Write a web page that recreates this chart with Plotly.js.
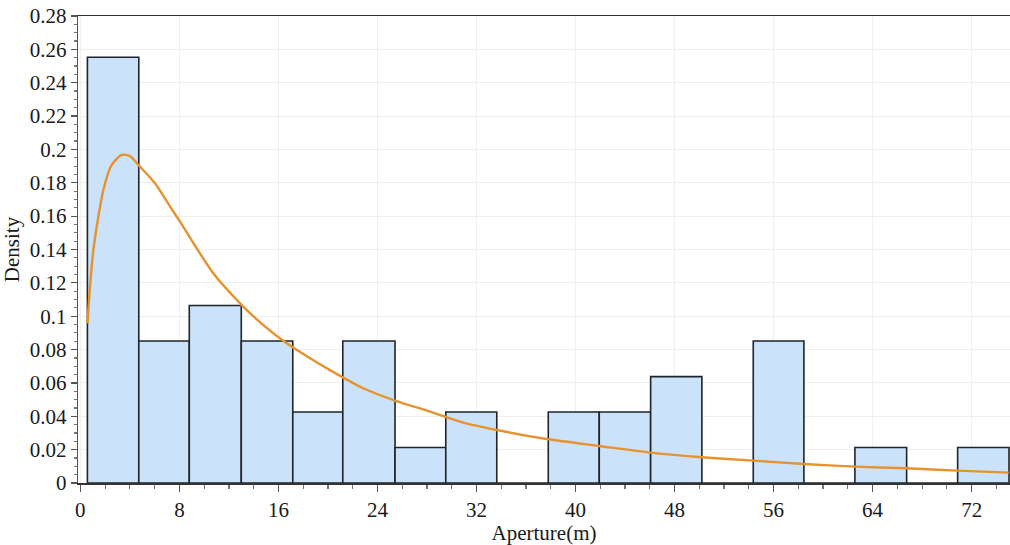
<!DOCTYPE html>
<html>
<head>
<meta charset="utf-8">
<script src="https://cdn.plot.ly/plotly-3.0.1.min.js"></script>
<style>html,body{margin:0;padding:0;background:#fff;}#chart{width:1010px;height:545px;}</style>
</head>
<body>
<div id="chart"></div>
<script>
// Histogram bin edges (m)
const binEdges = [0.57, 4.72, 8.80, 13.00, 17.16, 21.20, 25.42, 29.52, 33.64, 37.80,
                  41.92, 46.07, 50.21, 54.36, 58.45, 62.57, 66.75, 70.87, 75.02];
// Bar heights (Density axis)
const binHeights = [0.2553, 0.0851, 0.1064, 0.0851, 0.0426, 0.0851, 0.0213, 0.0426, 0,
                    0.0426, 0.0426, 0.0638, 0, 0.0851, 0, 0.0213, 0, 0.0213];
// Fitted density curve
const curveX = [0.57, 1.05, 1.86, 2.53, 3.34, 4.01, 4.69, 6.03, 7.25, 8.05, 10.74,
                13.04, 14.78, 16.67, 18.2, 20.17, 22.86, 25.42, 28.25, 30.94, 33.63,
                37.8, 41.9, 46.07, 50.2, 54.36, 58.46, 62.58, 66.75, 70.87, 75.0];
const curveY = [0.0957, 0.1397, 0.1757, 0.1907, 0.1967, 0.196, 0.1907, 0.1797, 0.1657, 0.1567,
                0.1257, 0.1067, 0.0947, 0.0838, 0.0765, 0.0677, 0.0568, 0.0494,
                0.0428, 0.0362, 0.0318, 0.0262, 0.0222, 0.0182, 0.0154, 0.0134, 0.0114, 0.0098,
                0.0088, 0.0074, 0.0062];
const xTickVals = [0, 8, 16, 24, 32, 40, 48, 56, 64, 72];
const xTitle = 'Aperture(m)';
const yTitle = 'Density';

const centers = binHeights.map((_, i) => (binEdges[i] + binEdges[i + 1]) / 2);
const widths = binHeights.map((_, i) => binEdges[i + 1] - binEdges[i]);

const font = 'Liberation Serif, Times New Roman, serif';

const traces = [
  {
    type: 'bar',
    x: centers,
    y: binHeights,
    width: widths,
    marker: {color: '#cbe3fa', line: {color: '#1e2428', width: 1.6}},
    hoverinfo: 'skip',
    showlegend: false
  },
  {
    type: 'scatter',
    mode: 'lines',
    x: curveX,
    y: curveY,
    line: {color: '#e8922e', width: 2.4, shape: 'spline', smoothing: 0.7},
    hoverinfo: 'skip',
    showlegend: false
  }
];

const layout = {
  width: 1010,
  height: 545,
  margin: {l: 78, r: 0, t: 16, b: 62},
  paper_bgcolor: '#ffffff',
  plot_bgcolor: '#ffffff',
  font: {family: font, color: '#1a1a1a', size: 21},
  bargap: 0,
  xaxis: {
    range: [-0.19, 75.1],
    tickvals: xTickVals,
    ticktext: xTickVals.map(String),
    ticks: 'outside',
    ticklen: 7,
    tickwidth: 1.2,
    tickcolor: '#555',
    minor: {dtick: 2, ticklen: 4, tickcolor: '#777', ticks: 'outside', showgrid: false},
    showgrid: true,
    gridcolor: '#efefef',
    gridwidth: 1,
    zeroline: false,
    showline: true,
    linecolor: '#333',
    linewidth: 1.5,
    mirror: true,
    tickfont: {family: font, size: 21, color: '#1a1a1a'},
    title: {text: xTitle, font: {family: font, size: 21, color: '#1a1a1a'}, standoff: 4}
  },
  yaxis: {
    range: [0, 0.28],
    dtick: 0.02,
    ticks: 'outside',
    ticklen: 6,
    tickwidth: 1.2,
    tickcolor: '#555',
    minor: {dtick: 0.005, ticklen: 3, tickcolor: '#777', ticks: 'outside', showgrid: false},
    showgrid: true,
    gridcolor: '#efefef',
    gridwidth: 1,
    zeroline: false,
    showline: true,
    linecolor: '#555',
    linewidth: 1.2,
    tickfont: {family: font, size: 21, color: '#1a1a1a'},
    title: {text: yTitle, font: {family: font, size: 21, color: '#1a1a1a'}, standoff: 4}
  }
};

Plotly.newPlot('chart', traces, layout, {displayModeBar: false, staticPlot: true});
</script>
</body>
</html>
